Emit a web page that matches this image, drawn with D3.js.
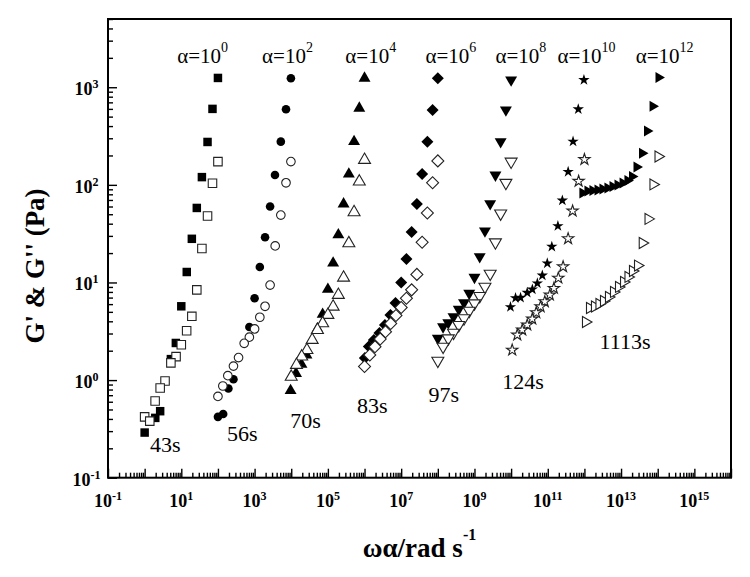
<!DOCTYPE html>
<html>
<head>
<meta charset="utf-8">
<script src="https://cdn.jsdelivr.net/npm/d3@7"></script>
<style>
  body { margin: 0; background: #fff; }
</style>
</head>
<body>
<div id="chart"></div>
<script>
// shift factors and sample ages
var alphas = [1e0, 1e2, 1e4, 1e6, 1e8, 1e10, 1e12];
var alphaExp = ['0', '2', '4', '6', '8', '10', '12'];
var ages = ['43s', '56s', '70s', '83s', '97s', '124s', '1113s'];

// [omega (rad/s), modulus (Pa)]; G' = filled, G'' = open
var gp43 = [[100, 1245], [71, 600], [52, 275], [36.5, 120], [26.5, 58], [19.4, 28], [14.1, 12.8], [10, 5.7], [7.1, 2.4], [5.2, 1.64], [2.65, 0.48], [1.95, 0.41], [1.0, 0.29]];
var gpp43 = [[100, 173], [71, 104], [52, 48], [36.5, 22.3], [26.5, 8.4], [19.4, 4.5], [14, 3.2], [10, 2.3], [7.2, 1.74], [5.2, 1.5], [3.6, 0.98], [2.65, 0.83], [1.93, 0.61], [1.0, 0.42], [1.38, 0.38]];

var gp56 = [[98, 1236], [72, 595], [52, 277], [36, 126], [26.5, 60], [19.3, 29], [13.9, 14.4], [10, 6.9], [7.2, 3.5], [2.65, 1.02], [1.93, 0.82], [1.39, 0.45], [1.0, 0.42]];
var gpp56 = [[98, 173], [72, 105], [52, 49], [36.5, 23.7], [26.5, 9.4], [19.3, 5.7], [13.9, 4.4], [10, 3.34], [7.2, 2.75], [5.2, 2.38], [3.65, 1.7], [2.65, 1.39], [1.86, 1.11], [1.36, 0.87], [1.0, 0.68]];

var gp70 = [[100, 1236], [72, 609], [51.8, 277], [37.3, 129], [26.8, 63.7], [19.3, 30.7], [13.9, 15.8], [10, 8.5], [7.2, 4.72], [5.18, 3.34], [2.6, 1.81], [1.9, 1.45], [1.35, 1.17], [0.96, 0.78]];
var gpp70 = [[100, 180], [72, 108], [51.8, 52.4], [37.3, 25.2], [26.8, 11.2], [19.3, 7.45], [13.9, 5.65], [10, 4.65], [7.2, 3.82], [5.18, 3.26], [3.73, 2.58], [2.68, 2.03], [1.93, 1.74], [1.39, 1.43], [1.0, 1.08]];

var gp83 = [[100, 1236], [72, 585], [51.8, 277], [37.3, 129], [26.8, 63.7], [19.3, 32.9], [13.9, 17.4], [10, 10], [7.0, 6.17], [5.1, 4.65], [3.6, 3.67], [2.55, 3.04], [1.8, 2.58], [1.31, 2.21], [1.02, 1.68]];
var gpp83 = [[100, 176], [72, 105], [51.8, 51.5], [37.3, 25.8], [26.8, 12.1], [19.3, 8.4], [13.9, 6.9], [10, 5.55], [7.2, 4.59], [5.18, 3.8], [3.73, 3.13], [2.68, 2.64], [1.93, 2.2], [1.39, 1.81], [1.0, 1.38]];

var gp97 = [[100, 1188], [72, 585], [51.8, 277], [37.3, 126], [26.8, 64.2], [19.3, 33.7], [13.9, 18.4], [10, 11.3], [7.2, 7.75], [5.18, 6.21], [3.73, 5.31], [2.68, 4.46], [1.93, 3.87], [1.39, 3.52], [1.0, 2.68]];
var gpp97 = [[100, 173], [72, 105], [51.8, 50.9], [37.3, 25.8], [26.8, 12.3], [19.3, 9.06], [13.9, 7.27], [10, 6.12], [7.2, 5.14], [5.18, 4.3], [3.73, 3.67], [2.68, 3.06], [1.93, 2.68], [1.39, 2.2], [1.0, 1.58]];

var gp124 = [[97, 1188], [68, 596], [49, 278], [36, 136], [25, 69.2], [18.9, 37.9], [12.9, 23.3], [9.7, 15.7], [7.1, 11.8], [5.2, 9.8], [3.8, 8.5], [2.75, 7.86], [1.81, 6.98], [1.32, 6.93], [0.96, 5.61]];
var gpp124 = [[100, 182], [69.5, 109], [47.6, 54], [35.9, 28.1], [26.2, 14.5], [19.4, 11.1], [14.7, 8.72], [11.4, 7.45], [8.3, 6.36], [6.36, 5.65], [4.85, 4.91], [3.77, 4.23], [2.75, 3.67], [2.01, 3.26], [1.47, 2.9], [1.07, 2.03]];

var gp1113 = [[0.89, 82.6], [1.22, 86.5], [1.67, 87.7], [2.3, 88.7], [3.14, 90.8], [4.3, 92.9], [5.89, 96.3], [8.07, 99.7], [11.1, 104.5], [15.1, 111], [20.1, 122], [26.7, 152], [37.7, 211], [51.6, 357], [73, 639], [106, 1260]];
var gpp1113 = [[1.08, 3.94], [1.39, 5.48], [1.9, 5.68], [2.52, 6.02], [3.35, 6.46], [4.58, 7.1], [6.28, 8.0], [8.6, 9.0], [11.8, 10.1], [15.6, 11.4], [20.7, 13.1], [28.4, 14.9], [38.2, 25.4], [55, 44.8], [75, 101], [103, 195]];

// where the annotations sit, in axis units
var alphaLabelAt = [7.7, 1.6e3, 3.0e5, 4.6e7, 3.75e9, 1.85e11, 2.5e13];
var alphaLabelG = 1775;
var ageLabelAt = [[1.41, 0.185], [178, 0.238], [9.4e3, 0.323], [6.24e5, 0.463], [5.53e7, 0.601], [5.7e9, 0.805], [2.6e12, 2.08]];

var W = 750, H = 577,
  box = {left: 108, right: 731, top: 19, bottom: 477.7},
  serif = "'Liberation Serif', 'Times New Roman', Times, serif";

var x = d3.scaleLog().domain([1e-1, 1e16]).range([box.left, box.right]);
var y = d3.scaleLog().domain([1e-1, 5000]).range([box.bottom, box.top]);

var svg = d3.select('#chart').append('svg')
  .attr('width', W)
  .attr('height', H)
  .attr('font-family', serif);

function logTicks(scale) {
  var d = scale.domain(), lo = Math.floor(Math.log10(d[0])), hi = Math.ceil(Math.log10(d[1])),
    major = [], minor = [];
  for (var e = lo; e <= hi; e++) {
    var p = Math.pow(10, e);
    if (p >= d[0] * 0.999 && p <= d[1] * 1.001) major.push(p);
    for (var m = 2; m <= 9; m++) {
      if (m * p > d[0] && m * p < d[1] * 1.001) minor.push(m * p);
    }
  }
  return {major: major, minor: minor};
}

function styleAxis(g) {
  g.select('.domain').remove();
  g.selectAll('.tick line').attr('stroke', '#000').attr('stroke-width', 1.4);
}

var xt = logTicks(x), yt = logTicks(y);

svg.append('g').attr('transform', 'translate(0,' + box.bottom + ')')
  .call(d3.axisBottom(x).tickValues(xt.major).tickSize(-9).tickFormat(''))
  .call(styleAxis);
svg.append('g').attr('transform', 'translate(0,' + box.bottom + ')')
  .call(d3.axisBottom(x).tickValues(xt.minor).tickSize(-5).tickFormat(''))
  .call(styleAxis);
svg.append('g').attr('transform', 'translate(' + box.left + ',0)')
  .call(d3.axisLeft(y).tickValues(yt.major).tickSize(-9).tickFormat(''))
  .call(styleAxis);
svg.append('g').attr('transform', 'translate(' + box.left + ',0)')
  .call(d3.axisLeft(y).tickValues(yt.minor).tickSize(-5).tickFormat(''))
  .call(styleAxis);

svg.append('rect')
  .attr('x', box.left).attr('y', box.top)
  .attr('width', box.right - box.left).attr('height', box.bottom - box.top)
  .attr('fill', 'none').attr('stroke', '#000').attr('stroke-width', 2);

function powLabel(sel, base, exp, supSize, rise) {
  sel.attr('font-family', serif);
  sel.append('tspan').text(base);
  sel.append('tspan').attr('dy', -rise).attr('font-size', supSize).text(exp);
}

// tick labels: every other decade on x, every decade on y
xt.major.forEach(function (v) {
  var e = Math.round(Math.log10(v));
  if (Math.abs(e % 2) !== 1) return;
  svg.append('text')
    .attr('x', x(v)).attr('y', box.bottom + 29)
    .attr('text-anchor', 'middle')
    .attr('font-size', 18).attr('font-weight', 'bold')
    .call(powLabel, '10', String(e), 12, 7);
});
yt.major.forEach(function (v) {
  var e = Math.round(Math.log10(v));
  svg.append('text')
    .attr('x', 86.5).attr('y', y(v) + 8)
    .attr('text-anchor', 'middle')
    .attr('font-size', 18).attr('font-weight', 'bold')
    .call(powLabel, '10', String(e), 12, 7);
});

// axis titles
svg.append('text')
  .attr('transform', 'translate(44,266) rotate(-90)')
  .attr('text-anchor', 'middle')
  .attr('font-family', serif)
  .attr('font-size', 27).attr('font-weight', 'bold')
  .text("G' & G'' (Pa)");

svg.append('text')
  .attr('x', (box.left + box.right) / 2).attr('y', 556.7)
  .attr('text-anchor', 'middle')
  .attr('font-size', 27).attr('font-weight', 'bold')
  .call(powLabel, '\u03c9\u03b1/rad s', '-1', 16, 17);

// markers
var series = [
  {a: alphas[0], gp: gp43, gpp: gpp43, shape: d3.symbolSquare, rot: 0, size: 72},
  {a: alphas[1], gp: gp56, gpp: gpp56, shape: d3.symbolCircle, rot: 0, size: 58},
  {a: alphas[2], gp: gp70, gpp: gpp70, shape: d3.symbolTriangle, rot: 0, size: 62},
  {a: alphas[3], gp: gp83, gpp: gpp83, shape: d3.symbolSquare, rot: 45, size: 72},
  {a: alphas[4], gp: gp97, gpp: gpp97, shape: d3.symbolTriangle, rot: 180, size: 62},
  {a: alphas[5], gp: gp124, gpp: gpp124, shape: d3.symbolStar, rot: 0, size: 40},
  {a: alphas[6], gp: gp1113, gpp: gpp1113, shape: d3.symbolTriangle, rot: 90, size: 52}
];

function drawSet(s, pts, filled) {
  svg.append('g').selectAll('path')
    .data(pts)
    .join('path')
    .attr('d', d3.symbol().type(s.shape).size(s.size))
    .attr('transform', function (d) {
      return 'translate(' + x(d[0] * s.a) + ',' + y(d[1]) + ') rotate(' + s.rot + ')';
    })
    .attr('fill', filled ? '#000' : '#fff')
    .attr('stroke', filled ? 'none' : '#222')
    .attr('stroke-width', filled ? 0 : 1.1);
}

series.forEach(function (s) {
  drawSet(s, s.gp, true);
  drawSet(s, s.gpp, false);
});

// annotations
alphas.forEach(function (a, i) {
  svg.append('text')
    .attr('x', x(alphaLabelAt[i])).attr('y', y(alphaLabelG))
    .attr('font-size', 21)
    .call(powLabel, '\u03b1=10', alphaExp[i], 14, 11);
});

ages.forEach(function (t, i) {
  svg.append('text')
    .attr('x', x(ageLabelAt[i][0])).attr('y', y(ageLabelAt[i][1]))
    .attr('font-family', serif)
    .attr('font-size', 22)
    .text(t);
});
</script>
</body>
</html>
